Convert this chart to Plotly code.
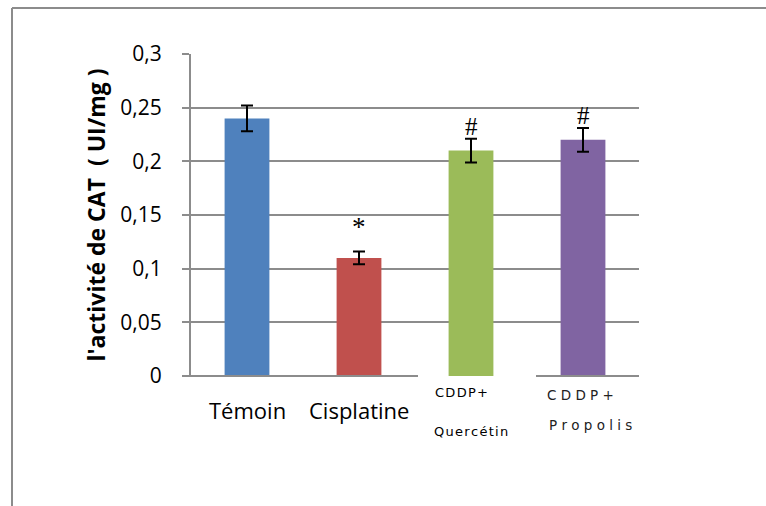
import plotly.graph_objects as go

categories = ["Témoin", "Cisplatine", "CDDP+ Quercétin", "CDDP+ Propolis"]
values = [0.24, 0.11, 0.21, 0.22]
errors = [0.012, 0.006, 0.011, 0.011]
colors = ["#4F81BD", "#C0504D", "#9BBB59", "#8064A2"]
signif = ["", "*", "#", "#"]
y_ticks = [0, 0.05, 0.1, 0.15, 0.2, 0.25, 0.3]
y_tick_text = ["0", "0,05", "0,1", "0,15", "0,2", "0,25", "0,3"]

W, H = 766, 506
L, R, T, B = 191, 127, 54, 130
pw, ph = W - L - R, H - T - B

def px_x(x):
    return (x - L) / pw

def px_y(y):
    return (H - B - y) / ph

grid = "#8C8C8C"

fig = go.Figure()
fig.add_trace(go.Bar(
    x=categories, y=values, width=0.4,
    marker=dict(color=colors, line=dict(width=0)),
    error_y=dict(type="data", array=errors, visible=True,
                 color="black", thickness=2, width=6),
))

annotations = []
# significance markers
shifts = [0, 10, 0, 0]
for c, v, e, s, sh in zip(categories, values, errors, signif, shifts):
    if s:
        annotations.append(dict(
            x=c, y=v + e, xref="x", yref="y", text=s, showarrow=False,
            yanchor="bottom", yshift=sh - 3,
            font=dict(family="Liberation Serif", size=25 if s == "#" else 27, color="black")))

# category labels
big_font = dict(family="Open Sans", size=22, color="black")
small_font = dict(family="DejaVu Sans", size=13, color="black")
wide_font = dict(family="DejaVu Sans", size=13.5, color="#222222")
hs = "\u200a"
annotations.append(dict(x=categories[0], y=px_y(410), xref="x", yref="paper",
                        text=categories[0], showarrow=False, yanchor="middle", font=big_font))
annotations.append(dict(x=categories[1], y=px_y(410), xref="x", yref="paper",
                        text=categories[1], showarrow=False, yanchor="middle", font=big_font))
annotations.append(dict(x=px_x(433), y=px_y(392), xref="paper", yref="paper",
                        text=hs.join("CDDP+"), showarrow=False, xanchor="left", yanchor="middle", font=small_font))
annotations.append(dict(x=px_x(432), y=px_y(432), xref="paper", yref="paper",
                        text=hs.join("Quercétin"), showarrow=False, xanchor="left", yanchor="middle", font=small_font))
annotations.append(dict(x=px_x(545), y=px_y(395), xref="paper", yref="paper",
                        text=" ".join("CDDP+"), showarrow=False, xanchor="left", yanchor="middle", font=wide_font))
annotations.append(dict(x=px_x(547), y=px_y(425), xref="paper", yref="paper",
                        text=" ".join("Propolis"), showarrow=False, xanchor="left", yanchor="middle", font=wide_font))

shapes = [
    # outer border (top and left)
    dict(type="line", xref="paper", yref="paper", x0=px_x(12), x1=px_x(766), y0=px_y(8), y1=px_y(8),
         line=dict(color="#8C8C8C", width=2)),
    dict(type="line", xref="paper", yref="paper", x0=px_x(12), x1=px_x(12), y0=px_y(8), y1=px_y(506),
         line=dict(color="#8C8C8C", width=2)),
    # x axis line (broken behind label box)
    dict(type="line", xref="paper", yref="paper", x0=px_x(183), x1=px_x(418), y0=0, y1=0,
         line=dict(color=grid, width=2)),
    dict(type="line", xref="paper", yref="paper", x0=px_x(536), x1=1, y0=0, y1=0,
         line=dict(color=grid, width=2)),
]

fig.update_layout(
    width=W, height=H,
    margin=dict(l=L, r=R, t=T, b=B, autoexpand=False),
    paper_bgcolor="white", plot_bgcolor="white",
    showlegend=False, bargap=0.6,
    annotations=annotations, shapes=shapes,
    font=dict(family="Open Sans", color="black"),
)
fig.update_xaxes(showticklabels=False, showgrid=False, showline=False, zeroline=False,
                 ticks="", range=[-0.5, 3.5])
fig.update_yaxes(range=[0, 0.3], tickvals=y_ticks, ticktext=y_tick_text,
                 tickfont=dict(family="Open Sans", size=21, color="black"),
                 ticklabelstandoff=16,
                 showgrid=True, gridcolor=grid, gridwidth=1.5,
                 showline=True, linecolor=grid, linewidth=2,
                 ticks="outside", ticklen=7, tickcolor=grid, tickwidth=1.5,
                 zeroline=False,
                 title=dict(text="<b>l'activité de CAT  ( UI/mg )</b>",
                            font=dict(family="Open Sans", size=23, color="black"),
                            standoff=8))

fig.write_html("out.html")
